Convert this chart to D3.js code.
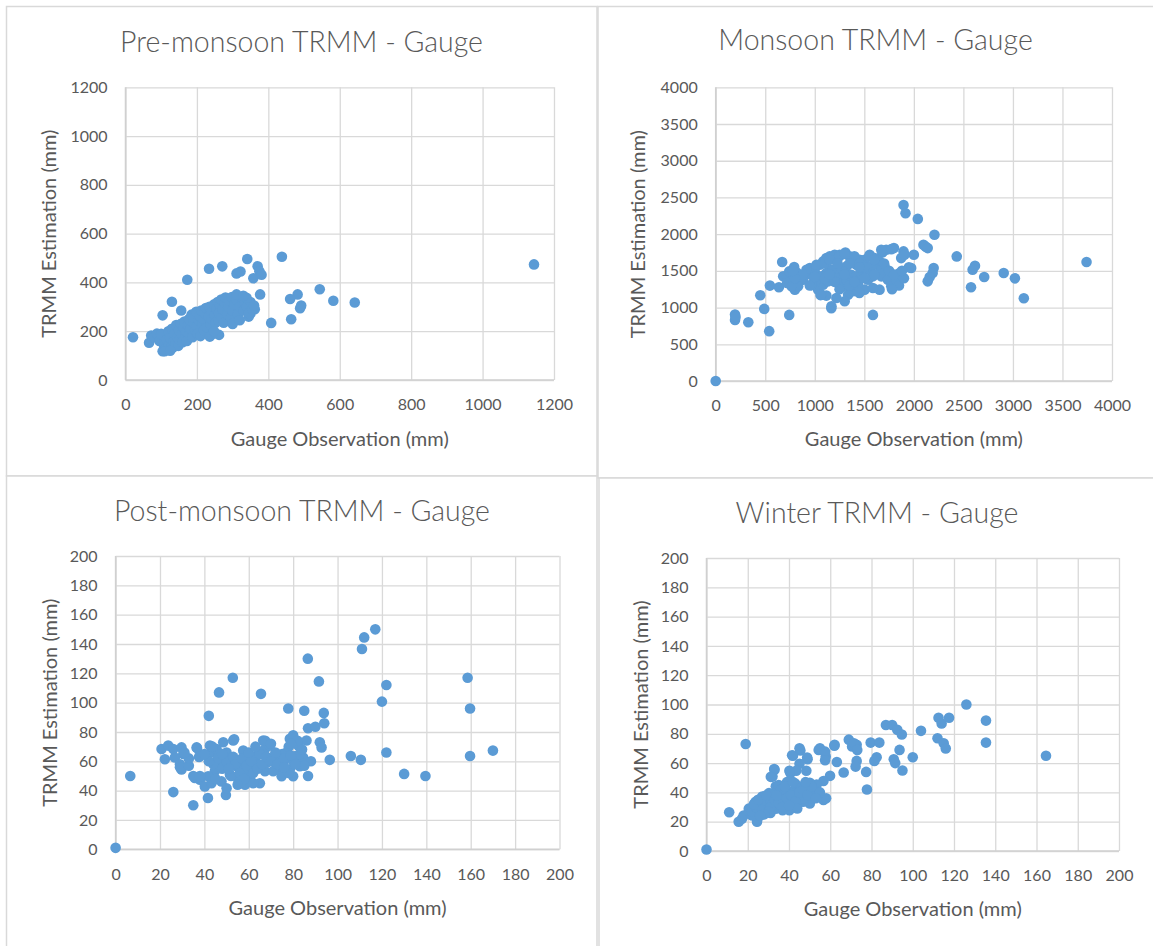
<!DOCTYPE html>
<html>
<head>
<meta charset="utf-8">
<script src="https://cdn.jsdelivr.net/npm/d3@7"></script>
<style>
  html, body { margin: 0; padding: 0; background: #ffffff; }
  svg { display: block; }
  text { font-family: Lato, "Open Sans", sans-serif; fill: #595959; }
</style>
</head>
<body>
<svg id="chart" width="1153" height="946"></svg>
<script>
// ---- Pre-monsoon: gauge observation vs TRMM estimate (mm) ----
const preGauge = [21,1144,438,341,271,234,173,311,322,370,375,358,381,377,544,482,461,489,492,464,408,130,104,156,582,642,350,362,345,
  66,72,80,88,95,100,104,108,112,115,118,120,122,125,128,130,132,135,138,140,142,145,148,150,152,155,158,160,162,165,168,170,172,175,178,180,
  182,185,188,190,192,195,198,200,202,205,208,210,212,215,218,220,222,225,228,230,232,235,238,240,242,245,248,250,252,255,258,260,262,265,
  268,270,272,275,278,280,285,288,290,295,298,300,305,310,315,320,325,330,335,340,345,350,355,360,236,262,248,300,320,110,125,311,339,330];
const preTrmm = [175,474,505,496,466,456,411,437,445,466,446,417,432,351,372,351,332,294,305,249,234,321,265,285,325,318,273,290,260,
  153,182,175,190,160,189,118,140,128,165,125,200,145,172,135,210,132,160,190,148,225,175,140,205,165,230,188,155,215,240,178,200,160,225,250,190,
  210,268,175,235,255,205,280,220,190,245,262,180,285,230,250,205,275,295,240,215,260,300,225,275,250,190,310,265,235,290,320,245,275,305,
  330,258,290,235,315,338,270,300,325,255,340,285,310,330,270,300,340,285,315,300,275,320,290,305,178,185,200,230,245,118,120,351,337,345];

// ---- Monsoon ----
const monGauge = [0,195,195,200,329,540,490,450,547,638,671,742,1587,1896,1916,2040,2208,2097,2120,2140,2433,2617,2593,2710,2577,2907,3020,3110,3743,
  2200,2190,2160,2140,2000,1973,1896,1872,1799,1721,1681,1167,
  681,721,742,792,815,849,765,799,849,950,966,983,1000,1050,1084,1117,1151,1201,1252,1309,1352,1386,1419,1453,1503,1554,1604,1654,1705,1721,
  1671,1587,1537,1503,1436,1386,1336,1302,1218,1168,1117,1067,1034,1084,1134,1185,1252,1285,1319,1218,1168,1117,1067,1017,1369,1419,1470,1520,
  1570,1621,1671,1738,1772,1822,1856,1906,1671,1772,1654,1587,1285,1235,1319,1017,916,883,832,721,765,
  968,1058,1100,1150,1250,1300,1400,1450,1500,1550,1600,1700,1750,1800,1850,1900,1250,1350,1400,1450,1300,1200,1100,950,880,800,780,1950,1880,
  1780,1600,1500,1450,1350,1230,1150,1000];
const monTrmm = [0,905,830,870,801,679,982,1167,1299,1276,1620,900,900,2398,2285,2208,1991,1855,1830,1810,1697,1570,1516,1416,1276,1471,1398,1127,1620,
  1538,1470,1416,1357,1719,1538,1765,1674,1810,1787,1751,990,
  1425,1416,1493,1552,1480,1448,1357,1244,1380,1538,1448,1335,1493,1584,1629,1674,1697,1719,1719,1751,1697,1629,1584,1652,1652,1719,1674,1629,1561,1493,
  1425,1425,1380,1244,1312,1222,1176,1086,1131,1018,1163,1176,1244,1312,1357,1403,1448,1516,1561,1538,1516,1471,1425,1380,1448,1425,1471,1516,
  1561,1584,1516,1380,1290,1380,1471,1719,1787,1796,1244,1267,1290,1335,1380,1584,1516,1380,1290,1335,1290,
  1306,1170,1600,1650,1700,1730,1700,1600,1550,1700,1650,1600,1500,1450,1300,1400,1250,1300,1350,1200,1450,1350,1400,1300,1450,1400,1500,1550,1500,
  1250,1450,1400,1550,1600,1600,1450,1420];

// ---- Post-monsoon ----
const postGauge = [0,6.6,26,35,41.6,42,46.6,52.8,65.5,77.8,86.6,85,91.6,93.8,94,86.7,90,96.5,106,110.5,111,112,117,120,122,122,130,139.6,158.6,159.7,159.7,170,86.7,49.7,
  20.7,23.7,26,29.7,30.5,22.2,26.7,29,29.7,36.5,38,42.5,43.2,45.5,48.5,53,50,47,44.7,41.7,38,35.7,40.2,43.2,47.7,50,51.5,54.5,57.5,59,56.8,60.5,58.3,
  62,63.5,66.5,67.3,69.5,71,72.5,67.3,65,68,74.8,77,78.5,80,82.3,86,81.5,83,78.5,75.5,92,92.8,84.5,80,74.8,71,62,55.3,
  29,36.7,37.6,43.6,53.4,67.4,33,35,38,55,57,60,63,70,75,78,80,83,88,85,
  44,46,48,50,52,53,54,56,57,58,59,61,62,64,65,66,68,70,72,73,76,78,79,81,82,84,79,76,51,48,45,55,60,63,42,40,33,31];
const postTrmm = [1,50,39,30,35,91,107,117,106,96,130,94.5,114.5,93,86,82.5,83.6,61,63.6,61,136.6,144.5,150,100.7,112,66,51.4,50,117,96,63.6,67.3,50,37,
  68.4,70.7,68.4,69.5,65,61.4,62.6,58,54.4,69.5,63.7,70.7,66,68.4,73,74.2,66,59,53.3,49.8,47.4,48.6,42.8,45,46.3,41.6,51,56.7,67.3,61.4,53.3,48.6,44,
  56.7,63.7,74.2,68.4,70.7,62.6,54.4,53.3,45,59,61.4,66,75.3,77.7,70.7,74.2,63.7,56.7,54.4,58,73,69.5,62.6,49.8,49.8,53.3,45,47.4,
  56,69,63,70,75,74,57,50,50,60,56,52,58,72,65,52,60,65,60,57,
  58,62,55,60,50,63,58,52,62,48,57,60,52,55,65,58,63,60,66,58,62,70,64,58,74,68,72,56,55,65,48,44,66,70,60,65,62,66];

// ---- Winter ----
const winGauge = [0,19,11,15.6,24.5,126,135.5,135.5,164.6,112.5,114,117.6,112,115,116,104,100,87,90,92.5,94.7,93.6,95,90.8,91.5,79.6,83.8,82.5,81.4,77.8,77.4,
  69,70.6,72.8,72.8,72.3,62,54.4,57.8,49,45.5,41.9,40.7,32,33,
  41.5,45.1,48.8,55,57.5,62.1,71.5,73.1,57.5,63.2,66.5,59.9,56.7,53.4,50.1,48.4,45.1,43.5,40.2,32.8,31.2,33.6,30.3,27,23.8,20.5,18,22.1,25.4,28.7,
  32,35.3,38.6,41.9,45.1,48.4,51.7,55,56.7,50.1,46.8,43.5,40.2,36.9,33.6,37.7,29.5,17.2,
  28,30,34,36,38,40,42,44,46,35,39,26,22,24,31,37,43,52,58,55,47,
  23,25,27,29,31,33,35,37,39,41,43,45,47,49,51,53,36,38,34,30,28,26,44,42,48,40];
const winTrmm = [1,73,26.5,20,20,100,89,74,65,91,87,91,77,73.6,70,82,64,86,86,82.7,79.5,69,55,62.6,60,74,74,64,61.5,42,54,
  76,71.3,72.5,61.5,57.6,71.8,69,64.5,62.6,68.6,65,53,50.8,55.4,
  65.4,70.1,63.8,70.1,67.8,72.5,73.6,69,61.9,60.7,53.6,51.3,47.8,45.4,46.6,54.8,59.5,54.8,54.8,56,50.6,44.2,39.5,37.2,33.6,28.9,24.2,24.2,28.9,31.3,
  33.6,36,38.4,40.7,41.9,40.7,38.4,37.2,34.8,32.5,33.6,31.3,27.8,27.8,28.9,33.6,34.8,22,
  30,36,40,31,42,35,30,37,44,45,47,33,27,30,26,38,46,42,36,40,36,
  32,35,28,38,30,35,33,30,36,38,34,40,42,38,44,36,42,44,38,27,25,24,29,47,47,31];

// Tick values shared by the panels
const ticks1200 = [0,200,400,600,800,1000,1200];
const ticks4000 = [0,500,1000,1500,2000,2500,3000,3500,4000];
const ticks200  = [0,20,40,60,80,100,120,140,160,180,200];

const titles = ["Pre-monsoon TRMM - Gauge","Monsoon TRMM - Gauge","Post-monsoon TRMM - Gauge","Winter TRMM - Gauge"];
const xAxisTitle = "Gauge Observation (mm)";
const yAxisTitle = "TRMM Estimation (mm)";

// Layout of each chart panel on the page
const panels = [
  { box:[6.5,6.5,597,476],   plot:{l:125.5,r:554,t:87.3,b:380},  ticks:ticks1200, gx:preGauge,  gy:preTrmm,  title:titles[0], titleX:301.5, titleY:52,    yTitleX:48,    xTitleY:438 },
  { box:[598,6.5,1160,478],  plot:{l:715.7,r:1112,t:87.3,b:381}, ticks:ticks4000, gx:monGauge,  gy:monTrmm,  title:titles[1], titleX:875.5, titleY:50,    yTitleX:637,   xTitleY:438 },
  { box:[6.5,476,597,952],   plot:{l:115.6,r:559.5,t:556,b:849.3}, ticks:ticks200, gx:postGauge, gy:postTrmm, title:titles[2], titleX:302,  titleY:520.7, yTitleX:49,    xTitleY:906.7 },
  { box:[599,478,1160,952],  plot:{l:706.5,r:1119,t:558,b:851},  ticks:ticks200,  gx:winGauge,  gy:winTrmm,  title:titles[3], titleX:877,   titleY:522.7, yTitleX:639.5, xTitleY:908 }
];

const svg = d3.select("#chart");
const markColor = "#5b9bd5";
const gridColor = "#d9d9d9";

panels.forEach(p => {
  const g = svg.append("g");
  const [x0, y0, x1, y1] = p.box;

  // panel frame
  g.append("rect")
    .attr("x", x0).attr("y", y0)
    .attr("width", x1 - x0).attr("height", y1 - y0)
    .attr("fill", "#ffffff")
    .attr("stroke", gridColor).attr("stroke-width", 1.5);

  const dom = d3.extent(p.ticks);
  const x = d3.scaleLinear().domain(dom).range([p.plot.l, p.plot.r]);
  const y = d3.scaleLinear().domain(dom).range([p.plot.b, p.plot.t]);

  // gridlines (both directions)
  const xAxis = d3.axisBottom(x).tickValues(p.ticks).tickSize(-(p.plot.b - p.plot.t)).tickPadding(19).tickFormat(d3.format("d"));
  const yAxis = d3.axisLeft(y).tickValues(p.ticks).tickSize(-(p.plot.r - p.plot.l)).tickPadding(18).tickFormat(d3.format("d"));

  const gx = g.append("g").attr("transform", `translate(0,${p.plot.b})`).call(xAxis);
  const gy = g.append("g").attr("transform", `translate(${p.plot.l},0)`).call(yAxis);
  [gx, gy].forEach(a => {
    a.select(".domain").remove();
    a.selectAll(".tick line").attr("stroke", gridColor).attr("stroke-width", 1.3);
    a.selectAll(".tick text")
      .attr("fill", "#595959")
      .style("font-family", "Lato, 'Open Sans', sans-serif")
      .style("font-size", "16px");
  });

  // axis lines on left and bottom
  g.append("line").attr("x1", p.plot.l).attr("x2", p.plot.r).attr("y1", p.plot.b).attr("y2", p.plot.b)
    .attr("stroke", "#d0d0d0").attr("stroke-width", 1.5);
  g.append("line").attr("x1", p.plot.l).attr("x2", p.plot.l).attr("y1", p.plot.t).attr("y2", p.plot.b)
    .attr("stroke", "#d0d0d0").attr("stroke-width", 1.5);

  // scatter points
  const pts = p.gx.map((v, i) => ({ gauge: v, trmm: p.gy[i] }));
  g.append("g").selectAll("circle").data(pts).join("circle")
    .attr("cx", d => x(d.gauge))
    .attr("cy", d => y(d.trmm))
    .attr("r", 5.3)
    .attr("fill", markColor);

  // chart title
  g.append("text")
    .attr("x", p.titleX).attr("y", p.titleY)
    .attr("text-anchor", "middle")
    .style("font-size", "28.5px")
    .style("font-weight", 300)
    .text(p.title);

  // axis titles
  g.append("text")
    .attr("x", (p.plot.l + p.plot.r) / 2).attr("y", p.xTitleY)
    .attr("text-anchor", "middle").attr("dominant-baseline", "central")
    .style("font-size", "20px")
    .text(xAxisTitle);

  g.append("text")
    .attr("transform", `translate(${p.yTitleX},${(p.plot.t + p.plot.b) / 2}) rotate(-90)`)
    .attr("text-anchor", "middle").attr("dominant-baseline", "central")
    .style("font-size", "20px")
    .text(yAxisTitle);
});
</script>
</body>
</html>
